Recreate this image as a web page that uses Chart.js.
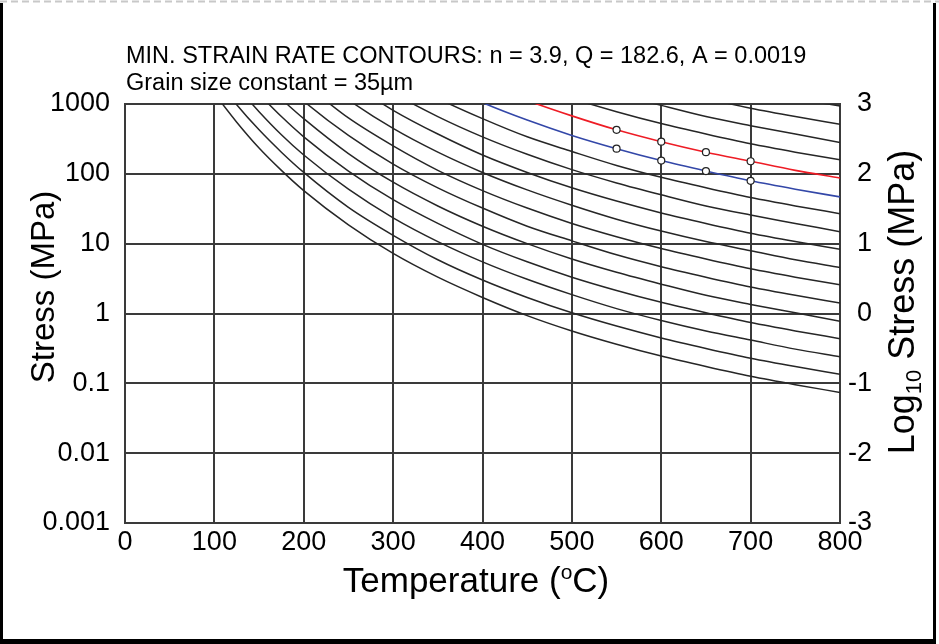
<!DOCTYPE html>
<html>
<head>
<meta charset="utf-8">
<script src="https://cdn.jsdelivr.net/npm/chart.js@4.4.1/dist/chart.umd.min.js"></script>
<style>
  html, body { margin: 0; padding: 0; background: #fff; }
  #wrap { position: relative; width: 939px; height: 644px; }
</style>
</head>
<body>
<div id="wrap"><canvas id="myChart" width="939" height="644"></canvas></div>
<script>
const temps = [100, 125, 150, 175, 200, 250, 300, 350, 400, 450, 500, 550, 600, 650, 700, 750, 800];

// black contours, log10 stress (MPa), bottom curve first
const contourLogStress = [
    [3.15, 2.74, 2.37, 2.05, 1.76, 1.27, 0.86, 0.52, 0.23, -0.03, -0.25, -0.44, -0.61, -0.76, -0.90, -1.02, -1.13],
    [3.40, 2.99, 2.63, 2.31, 2.02, 1.52, 1.12, 0.77, 0.48, 0.23, 0.01, -0.18, -0.35, -0.50, -0.64, -0.76, -0.87],
    [null, 3.25, 2.89, 2.56, 2.27, 1.78, 1.37, 1.03, 0.74, 0.49, 0.27, 0.07, -0.10, -0.25, -0.38, -0.51, -0.62],
    [null, null, 3.14, 2.82, 2.53, 2.04, 1.63, 1.29, 0.99, 0.74, 0.52, 0.33, 0.16, 0.01, -0.13, -0.25, -0.36],
    [null, null, null, 3.07, 2.79, 2.29, 1.88, 1.54, 1.25, 1.00, 0.78, 0.59, 0.42, 0.26, 0.13, 0.01, -0.11],
    [null, null, null, 3.33, 3.04, 2.55, 2.14, 1.80, 1.51, 1.25, 1.04, 0.84, 0.67, 0.52, 0.38, 0.26, 0.15],
    [null, null, null, null, 3.30, 2.80, 2.40, 2.05, 1.76, 1.51, 1.29, 1.10, 0.93, 0.78, 0.64, 0.52, 0.41],
    [null, null, null, null, 3.55, 3.06, 2.65, 2.31, 2.02, 1.77, 1.55, 1.35, 1.18, 1.03, 0.90, 0.77, 0.66],
    [null, null, null, null, null, 3.32, 2.91, 2.57, 2.27, 2.02, 1.80, 1.61, 1.44, 1.29, 1.15, 1.03, 0.92],
    [null, null, null, null, null, 3.57, 3.16, 2.82, 2.53, 2.28, 2.06, 1.87, 1.70, 1.54, 1.41, 1.29, 1.17],
    [null, null, null, null, null, null, 3.42, 3.08, 2.79, 2.53, 2.32, 2.12, 1.95, 1.80, 1.66, 1.54, 1.43],
    [null, null, null, null, null, null, null, null, null, 3.30, 3.08, 2.89, 2.72, 2.57, 2.43, 2.31, 2.20],
    [null, null, null, null, null, null, null, null, null, null, 3.34, 3.15, 2.98, 2.82, 2.69, 2.57, 2.45],
    [null, null, null, null, null, null, null, null, null, null, null, null, 3.23, 3.08, 2.94, 2.82, 2.71],
    [null, null, null, null, null, null, null, null, null, null, null, null, null, null, 3.20, 3.08, 2.97]
];

// the two highlighted contours
const redLogStress  = [null, null, null, null, null, null, null, null, 3.30, 3.05, 2.83, 2.63, 2.46, 2.31, 2.18, 2.05, 1.94];
const blueLogStress = [null, null, null, null, null, null, 3.66, 3.32, 3.02, 2.77, 2.55, 2.36, 2.19, 2.04, 1.90, 1.78, 1.67];
const markerTemps = [550, 600, 650, 700];

const stressTickLabels = ['0.001', '0.01', '0.1', '1', '10', '100', '1000'];
const titleLines = ['MIN. STRAIN RATE CONTOURS: n = 3.9, Q = 182.6, A = 0.0019', 'Grain size constant = 35\u00b5m'];

const FONT = '"Liberation Sans", Arial, Helvetica, sans-serif';
const GRID = '#3a3a3a';

function toPoints(row) {
    return temps.map((t, i) => ({ x: t, y: row[i] }));
}

function markerRadius(c) {
    return markerTemps.includes(temps[c.dataIndex]) ? 3.5 : 0;
}

const datasets = [
    {
        data: toPoints(redLogStress),
        borderColor: '#ee1c25',
        borderWidth: 1.6,
        pointRadius: markerRadius,
        pointBackgroundColor: '#fff',
        pointBorderColor: '#222',
        pointBorderWidth: 1.2
    },
    {
        data: toPoints(blueLogStress),
        borderColor: '#3347a8',
        borderWidth: 1.6,
        pointRadius: markerRadius,
        pointBackgroundColor: '#fff',
        pointBorderColor: '#222',
        pointBorderWidth: 1.2
    }
];
contourLogStress.forEach(row => {
    datasets.push({
        data: toPoints(row),
        borderColor: '#262626',
        borderWidth: 1.5,
        pointRadius: 0
    });
});

// draw a run of text pieces (for sub/superscripts) centred on cx
function drawRuns(ctx, runs, cx, baseline) {
    let total = 0;
    runs.forEach(r => {
        ctx.font = r.size + 'px ' + FONT;
        r.w = ctx.measureText(r.text).width;
        total += r.w;
    });
    let x = cx - total / 2;
    runs.forEach(r => {
        ctx.font = r.size + 'px ' + FONT;
        ctx.fillText(r.text, x, baseline + (r.dy || 0));
        x += r.w;
    });
}

const textPlugin = {
    id: 'texts',
    afterDraw(chart) {
        const ctx = chart.ctx;
        ctx.save();

        // outer frame
        ctx.strokeStyle = '#c8c8c8';
        ctx.lineWidth = 2;
        ctx.setLineDash([7, 4]);
        ctx.beginPath();
        ctx.moveTo(0, 1.5);
        ctx.lineTo(939, 1.5);
        ctx.stroke();
        ctx.setLineDash([]);
        ctx.fillStyle = '#000';
        ctx.fillRect(0, 3, 3, 641);
        ctx.fillRect(933, 3, 3, 641);
        ctx.fillRect(0, 639, 936, 5);

        ctx.textAlign = 'left';
        ctx.textBaseline = 'alphabetic';
        ctx.font = '23.5px ' + FONT;
        ctx.fillText(titleLines[0], 126, 63);
        ctx.fillText(titleLines[1], 126, 90);

        // x axis title
        drawRuns(ctx, [
            { text: 'Temperature (', size: 35 },
            { text: 'o', size: 21, dy: -13 },
            { text: 'C)', size: 35 }
        ], 476, 592);

        // left axis title
        ctx.save();
        ctx.translate(42, 287);
        ctx.rotate(-Math.PI / 2);
        drawRuns(ctx, [{ text: 'Stress (MPa)', size: 33 }], 0, 12);
        ctx.restore();

        // right axis title
        ctx.save();
        ctx.translate(901, 302);
        ctx.rotate(-Math.PI / 2);
        drawRuns(ctx, [
            { text: 'Log', size: 36 },
            { text: '10', size: 22, dy: 7 },
            { text: ' Stress (MPa)', size: 36 }
        ], 0, 13);
        ctx.restore();

        ctx.restore();
    }
};

const tickFont = { family: FONT, size: 27 };

new Chart(document.getElementById('myChart').getContext('2d'), {
    type: 'line',
    data: { datasets: datasets },
    options: {
        responsive: false,
        animation: false,
        devicePixelRatio: 1,
        layout: { padding: { top: 104, left: 0, right: 67, bottom: 61 } },
        elements: { line: { cubicInterpolationMode: 'monotone' } },
        plugins: { legend: { display: false }, tooltip: { enabled: false } },
        scales: {
            x: {
                type: 'linear',
                min: 0,
                max: 800,
                ticks: { stepSize: 100, font: tickFont, color: '#000', padding: 3, maxRotation: 0, autoSkip: false },
                grid: { color: GRID, lineWidth: 2, drawTicks: false },
                border: { color: GRID, width: 2 },
                afterFit: s => { s.height = 60; }
            },
            y: {
                type: 'linear',
                position: 'left',
                min: -3,
                max: 3,
                ticks: {
                    stepSize: 1,
                    font: tickFont,
                    color: '#000',
                    padding: 15,
                    callback: v => stressTickLabels[Math.round(v) + 3]
                },
                grid: { color: GRID, lineWidth: 2, drawTicks: false },
                border: { color: GRID, width: 2 },
                afterFit: s => { s.width = 125; }
            },
            y2: {
                type: 'linear',
                position: 'right',
                min: -3,
                max: 3,
                ticks: {
                    stepSize: 1,
                    font: tickFont,
                    color: '#000',
                    padding: 10,
                    crossAlign: 'far',
                    callback: v => String(Math.round(v))
                },
                grid: { display: false, drawTicks: false },
                border: { color: GRID, width: 2 },
                afterFit: s => { s.width = 32; }
            }
        }
    },
    plugins: [textPlugin]
});
</script>
</body>
</html>
